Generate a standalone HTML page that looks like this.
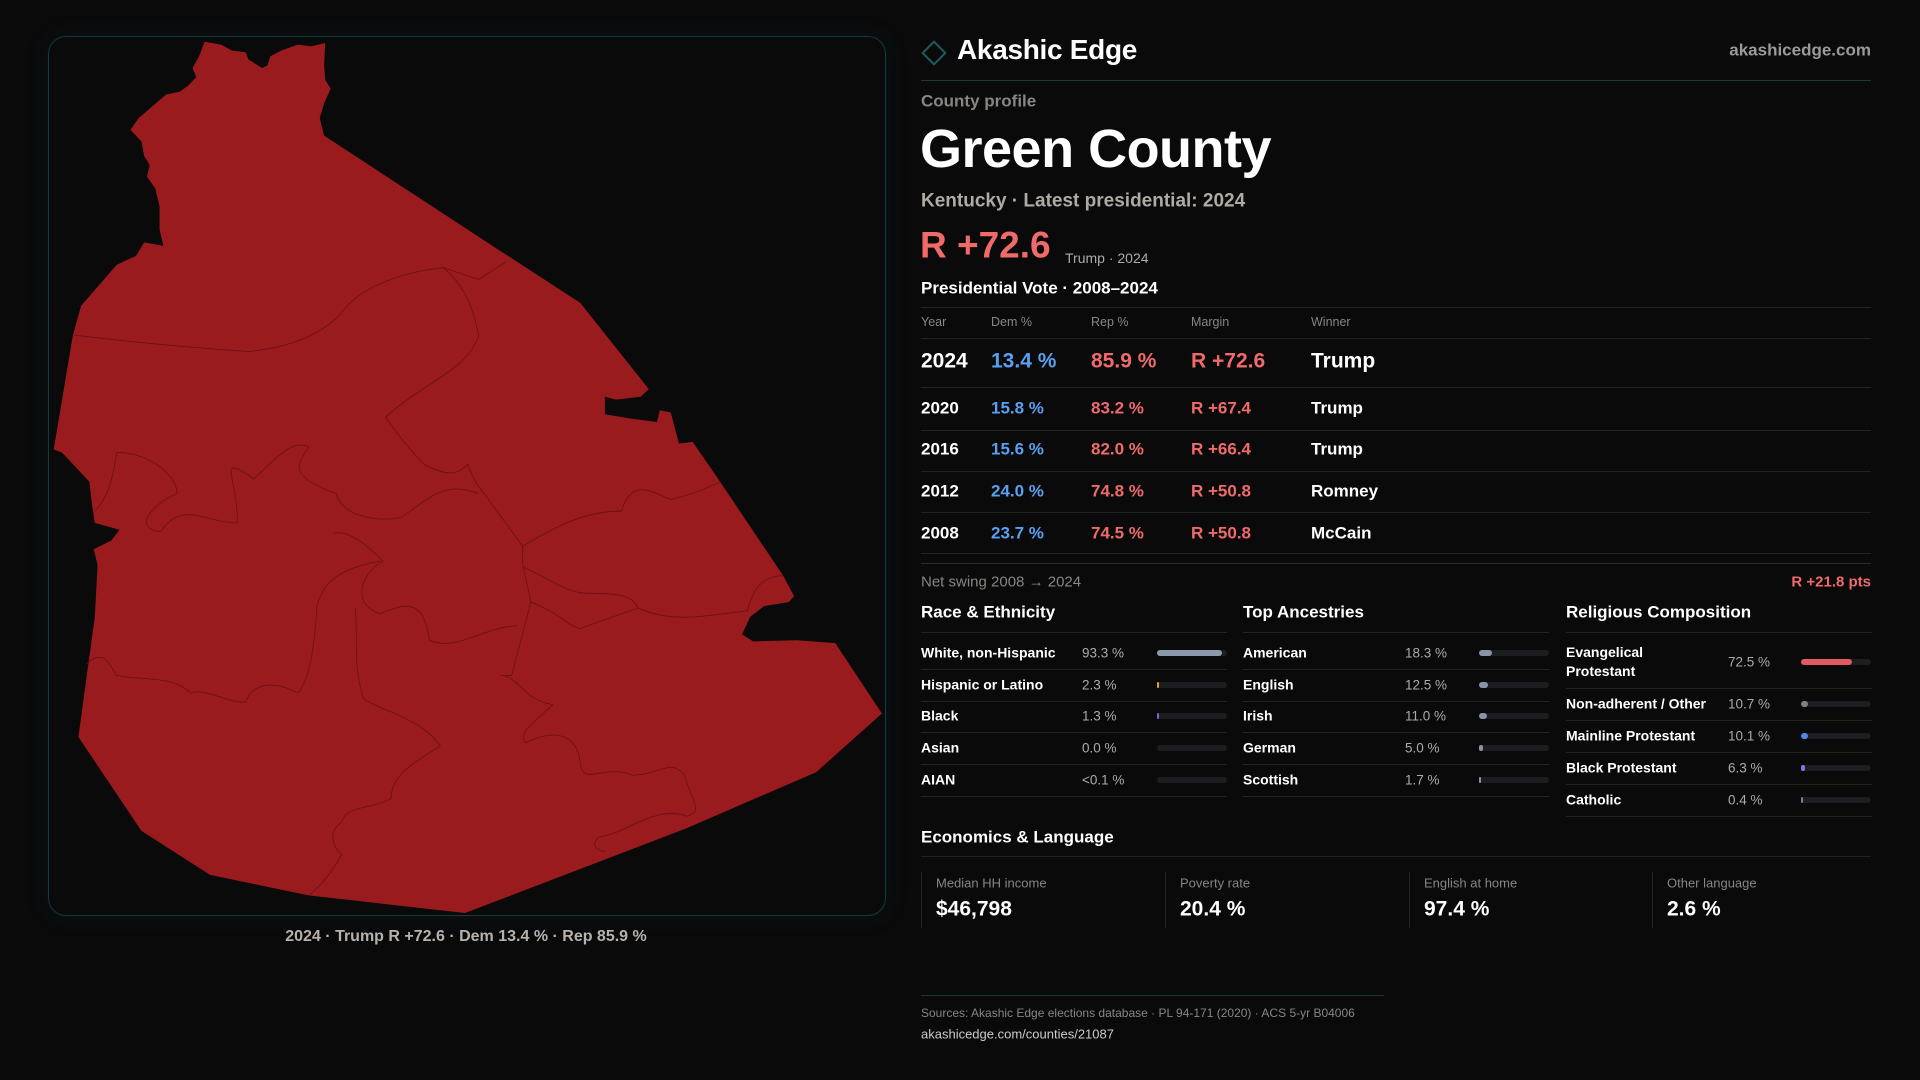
<!DOCTYPE html>
<html><head><meta charset="utf-8"><style>
html,body{margin:0;padding:0;background:#0a0a0b;}
body{width:1920px;height:1080px;position:relative;overflow:hidden;font-family:"Liberation Sans",sans-serif;color:#fff;}
.t{position:absolute;white-space:nowrap;transform:translateY(-50%);line-height:1;}
.hl{position:absolute;height:1px;background:#222426;}
.r{text-align:right;transform:translate(-100%,-50%);}
</style></head><body>
<div style="position:absolute;left:48px;top:36px;width:836px;height:878px;border:1px solid #123a40;border-radius:18px;box-shadow:0 0 24px rgba(20,80,90,0.15);"></div>
<svg style="position:absolute;left:40px;top:30px;width:860px;height:920px" viewBox="0 0 1568 1568" preserveAspectRatio="none">
<polygon fill="#9a1b1e" points="300,20 330,25 350,35 375,38 380,50 405,65 415,60 420,45 440,35 470,25 495,28 520,22 518,60 520,85 530,100 518,125 510,150 518,180 845,380 985,465 1110,612 1095,625 1050,630 1030,625 1030,655 1075,662 1125,668 1130,648 1150,652 1165,705 1190,702 1240,770 1355,930 1375,965 1365,975 1320,982 1295,1000 1280,1030 1300,1042 1380,1040 1450,1045 1535,1165 1415,1265 1180,1360 775,1505 490,1475 310,1440 185,1365 70,1205 100,1000 105,912 98,885 130,870 145,852 100,840 95,810 90,770 60,740 40,720 25,715 60,520 75,470 140,400 175,385 190,362 225,368 218,340 218,300 210,270 195,250 200,230 190,215 185,190 165,170 180,150 205,130 230,110 255,105 270,95 285,80 278,65 290,45"/>
<g fill="none" stroke="#6a1216" stroke-width="1.5">
<path d="M62,520 C150,530 250,540 380,548 C470,540 530,510 560,470 C600,430 680,410 735,405 L800,425 L850,395"/>
<path d="M735,405 C780,440 790,480 800,520 C780,580 700,600 630,660 C660,700 680,720 700,740 C740,760 760,760 780,740 C790,770 810,790 810,790 L880,880 L880,910 L895,975 L860,1100 L840,1100"/>
<path d="M100,820 C120,800 130,780 140,720 C200,720 250,760 250,790 C200,810 170,850 220,855 C260,800 300,840 360,840 C360,760 320,720 390,765 C440,720 460,700 490,710 C470,740 450,760 540,790 C550,830 620,840 660,830 C720,790 740,770 800,790"/>
<path d="M535,858 C560,850 600,880 625,905 C580,930 570,980 620,995 C680,970 700,980 710,1040 C760,1060 800,1020 870,1015"/>
<path d="M880,880 C950,840 1000,820 1060,820 C1080,760 1120,790 1150,800 C1200,790 1240,770 1240,770"/>
<path d="M880,915 C940,940 960,960 1000,960 C1040,960 1080,960 1090,985 C1150,1010 1200,1000 1290,990 C1300,950 1320,930 1355,930"/>
<path d="M895,975 C940,990 970,1020 985,1020 L1090,985"/>
<path d="M85,1080 C120,1050 130,1090 140,1100 C200,1110 240,1100 275,1130 C300,1120 350,1150 375,1145 C390,1110 430,1110 470,1130 C490,1110 500,1060 505,980 C520,940 540,920 620,905"/>
<path d="M575,985 C580,1050 570,1080 590,1140 C620,1160 690,1170 730,1220 C680,1250 640,1270 640,1310 C600,1330 560,1320 550,1350 C520,1370 540,1400 550,1405 C530,1440 510,1460 490,1475"/>
<path d="M845,1100 C880,1110 880,1140 935,1150 C900,1180 870,1200 885,1215 C940,1190 980,1200 985,1250 C990,1290 1030,1250 1080,1270 C1130,1270 1150,1240 1175,1270 C1190,1320 1210,1330 1180,1340 C1120,1320 1070,1370 1020,1375 C1000,1390 1020,1400 1030,1400"/>
</g>
</svg>
<div class="t" style="left:466px;top:937px;transform:translate(-50%,-50%);font-size:16px;color:#b8b2ad;font-weight:bold;">2024 · Trump R +72.6 · Dem 13.4 % · Rep 85.9 %</div>

<svg style="position:absolute;left:920px;top:39px" width="28" height="28"><rect x="6" y="6" width="16" height="16" transform="rotate(45 14 14)" fill="none" stroke="#1e5a62" stroke-width="2"/></svg>
<div class="t" style="left:957px;top:50px;font-size:28px;font-weight:bold;letter-spacing:-0.3px;">Akashic Edge</div>
<div class="t r" style="left:1871px;top:50px;font-size:17px;color:#9a9a9a;font-weight:bold;">akashicedge.com</div>
<div class="hl" style="left:921px;top:80px;width:950px;background:#1a3a3e;"></div>
<div class="t" style="left:921px;top:101px;font-size:17px;color:#8a8580;font-weight:bold;">County profile</div>
<div class="t" style="left:920px;top:149px;font-size:54px;font-weight:bold;letter-spacing:-0.5px;">Green County</div>
<div class="t" style="left:921px;top:201px;font-size:19px;color:#b0aaa5;font-weight:bold;">Kentucky · Latest presidential: 2024</div>
<div class="t" style="left:920px;top:245px;font-size:37px;color:#f06a6a;font-weight:bold;">R +72.6</div>
<div class="t" style="left:1065px;top:258px;font-size:14px;color:#b0aaa5;">Trump · 2024</div>
<div class="t" style="left:921px;top:288px;font-size:17px;font-weight:bold;">Presidential Vote · 2008–2024</div>
<div id="vt"></div>
<div class="t" style="left:921px;top:582px;font-size:15px;color:#8a8580;">Net swing 2008 → 2024</div>
<div class="t r" style="left:1871px;top:582px;font-size:15px;color:#f06a6a;font-weight:bold;">R +21.8 pts</div>
<div id="sections"></div>
<div class="t" style="left:921px;top:837px;font-size:17px;font-weight:bold;">Economics &amp; Language</div>
<div class="hl" style="left:921px;top:856px;width:950px;"></div>
<div id="cards"></div>
<div class="hl" style="left:921px;top:995px;width:463px;background:#143a3e;"></div>
<div class="t" style="left:921px;top:1013px;font-size:12px;color:#8a8580;">Sources: Akashic Edge elections database · PL 94-171 (2020) · ACS 5-yr B04006</div>
<div class="t" style="left:921px;top:1034px;font-size:13px;color:#cfcac5;">akashicedge.com/counties/21087</div>
<script>
const years=["2024","2020","2016","2012","2008"];
const demPct=[13.4,15.8,15.6,24.0,23.7];
const repPct=[85.9,83.2,82.0,74.8,74.5];
const margins=[72.6,67.4,66.4,50.8,50.8];
const winners=["Trump","Trump","Trump","Romney","McCain"];
const raceLabels=["White, non-Hispanic","Hispanic or Latino","Black","Asian","AIAN"];
const raceValues=[93.3,2.3,1.3,0.0,0.05];
const raceText=["93.3 %","2.3 %","1.3 %","0.0 %","<0.1 %"];
const ancLabels=["American","English","Irish","German","Scottish"];
const ancValues=[18.3,12.5,11.0,5.0,1.7];
const relLabels=["Evangelical Protestant","Non-adherent / Other","Mainline Protestant","Black Protestant","Catholic"];
const relValues=[72.5,10.7,10.1,6.3,0.4];
const econLabels=["Median HH income","Poverty rate","English at home","Other language"];
const econValues=["$46,798","20.4 %","97.4 %","2.6 %"];
const raceColors=["#8c99ad","#e0a030","#7a6ad8","#8c99ad","#8c99ad"];
const relColors=["#e05a5f","#7c8290","#4a8ae8","#9a6ae8","#7c8290"];

function el(parent,cls,style,text){const d=document.createElement('div');if(cls)d.className=cls;d.style.cssText=style;if(text!==undefined)d.textContent=text;parent.appendChild(d);return d;}
const vt=document.getElementById('vt');
const cols=[921,991,1091,1191,1311];
const heads=["Year","Dem %","Rep %","Margin","Winner"];
let h=el(vt,'hl','left:921px;top:307px;width:950px;');


heads.forEach((t,i)=>{const d=el(vt,'t',`left:${cols[i]}px;top:322px;font-size:12.5px;color:#8a8580;`,t);

});
h=el(vt,'hl','left:921px;top:338px;width:950px;');


const rowY=[361,408,449,491,533];
const ruleY=[387,430,471,512,553];
years.forEach((y,i)=>{
  const fs=i===0?21:17;
  const vals=[y,demPct[i].toFixed(1)+" %",repPct[i].toFixed(1)+" %","R +"+margins[i].toFixed(1),winners[i]];
  const colr=["#fff","#5aa0f0","#f06a6a","#f06a6a","#fff"];
  vals.forEach((v,j)=>{const d=el(vt,'t',`left:${cols[j]}px;top:${rowY[i]}px;font-size:${fs}px;color:${colr[j]};font-weight:bold;`,v);
  
  });
  const r=el(vt,'hl',`left:921px;top:${ruleY[i]}px;width:950px;`);
  
  
});
h=el(vt,'hl','left:921px;top:563px;width:950px;background:#2a2c2e;');



const sec=document.getElementById('sections');
function section(x,title,labels,values,texts,colors,valX,barX,rowYs,ruleYs){
  const t=el(sec,'t',`left:${x}px;top:612px;font-size:17px;font-weight:bold;`,title);
  
  
  const l=el(sec,'hl',`left:${x}px;top:632px;width:306px;`);
  
  
  labels.forEach((lab,i)=>{
    const y=rowYs[i];
    const a=el(sec,'t',`left:${x}px;top:${y}px;font-size:14px;font-weight:bold;line-height:19px;white-space:normal;width:150px;`,lab);
    
    
    const b=el(sec,'t',`left:${valX}px;top:${y}px;font-size:13.5px;color:#b0aaa5;`,texts[i]);
    
    
    const tr=el(sec,'',`position:absolute;left:${barX}px;top:${y-3}px;width:70px;height:6px;border-radius:3px;background:#1c1d20;`);
    
    
    let w=values[i]/100*70;
    if(values[i]>=0.3&&w<2)w=2;
    const f=el(tr,'',`position:absolute;left:0;top:0;height:6px;border-radius:3px;width:${w}px;background:${colors[i]};`);
    
    
    const rr=el(sec,'hl',`left:${x}px;top:${ruleYs[i]}px;width:306px;`);
    
    
  });
}
const stdY=[653,685,716,748,780], stdR=[669,701,732,764,796];
section(921,"Race & Ethnicity",raceLabels,raceValues,raceText,raceColors,1082,1157,stdY,stdR);
section(1243,"Top Ancestries",ancLabels,ancValues,ancValues.map(v=>v.toFixed(1)+" %"),ancValues.map(()=>"#8a94a6"),1405,1479,stdY,stdR);
section(1566,"Religious Composition",relLabels,relValues,relValues.map(v=>v.toFixed(1)+" %"),relColors,1728,1801,[662,704,736,768,800],[688,720,752,784,816]);

const cards=document.getElementById('cards');
const cardX=[921,1165,1409,1652];
econLabels.forEach((lab,i)=>{
  const c=el(cards,'',`position:absolute;left:${cardX[i]}px;top:872px;width:200px;height:56px;border-left:1px solid #222426;`);
  
  
  const a=el(cards,'t',`left:${cardX[i]+15}px;top:883px;font-size:13px;color:#8a8580;`,lab);
  
  
  const b=el(cards,'t',`left:${cardX[i]+15}px;top:909px;font-size:21px;font-weight:bold;`,econValues[i]);
  
  
});
</script>
</body></html>
